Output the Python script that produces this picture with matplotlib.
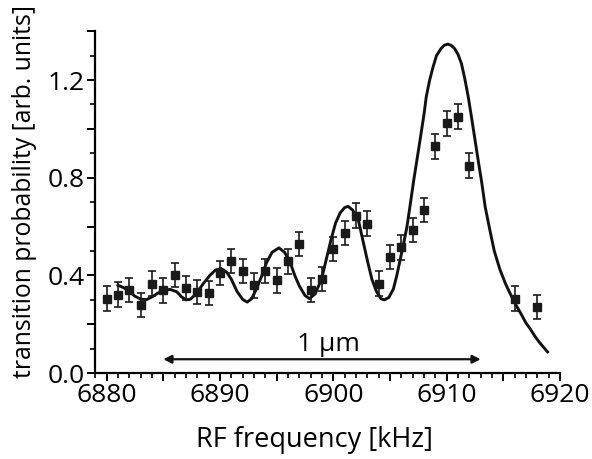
import numpy as np
import matplotlib
matplotlib.use("Agg")
import matplotlib.pyplot as plt
from matplotlib.ticker import MultipleLocator, FuncFormatter

plt.rcParams["font.family"] = ["Open Sans", "DejaVu Sans"]

# measured points (RF frequency in kHz, transition probability)
freq = [6880, 6881, 6882, 6883, 6884, 6885, 6886, 6887, 6888, 6889,
        6890, 6891, 6892, 6893, 6894, 6895, 6896, 6897, 6898, 6899,
        6900, 6901, 6902, 6903, 6904, 6905, 6906, 6907, 6908, 6909,
        6910, 6911, 6912, 6916, 6918]
prob = [0.305, 0.322, 0.340, 0.278, 0.367, 0.339, 0.401, 0.348, 0.332, 0.329,
        0.410, 0.459, 0.418, 0.359, 0.418, 0.380, 0.458, 0.529, 0.340, 0.386,
        0.509, 0.574, 0.645, 0.612, 0.367, 0.476, 0.515, 0.585, 0.669, 0.928,
        1.023, 1.050, 0.850, 0.305, 0.272]
err = [0.05] * len(freq)

# theory curve
fit_x = [6881.0, 6881.5, 6882.0, 6882.5, 6883.0, 6883.5, 6884.0, 6884.5, 6885.0, 6885.6,
         6886.2, 6886.6, 6887.0, 6887.4, 6887.9, 6888.5, 6889.1, 6889.6, 6890.1, 6890.6,
         6891.0, 6891.5, 6892.0, 6892.4, 6892.8, 6893.2, 6893.7, 6894.1, 6894.6, 6895.2,
         6895.7, 6896.2, 6896.6, 6897.0, 6897.5, 6897.9, 6898.4, 6898.95, 6899.4, 6899.8,
         6900.2, 6900.6, 6901.0, 6901.3, 6901.7, 6902.2, 6902.6, 6903.05, 6903.4, 6903.8,
         6904.2, 6904.5, 6904.9, 6905.3, 6905.6, 6905.9, 6906.2, 6906.5, 6906.8, 6907.1,
         6907.4, 6907.7, 6908.0, 6908.2, 6908.5, 6908.8, 6909.1, 6909.5, 6909.8, 6910.1,
         6910.4, 6910.7, 6911.0, 6911.3, 6911.6, 6911.9, 6912.2, 6912.5, 6912.8, 6913.1,
         6913.4, 6913.8, 6914.2, 6914.7, 6915.2, 6915.7, 6916.1, 6916.5, 6917.0, 6917.3,
         6917.8, 6918.2, 6918.9]
fit_y = [0.360, 0.350, 0.335, 0.315, 0.303, 0.301, 0.312, 0.327, 0.339, 0.343,
         0.333, 0.313, 0.300, 0.303, 0.325, 0.365, 0.400, 0.422, 0.428, 0.413,
         0.385, 0.335, 0.302, 0.291, 0.305, 0.343, 0.400, 0.452, 0.495, 0.513,
         0.495, 0.452, 0.400, 0.357, 0.318, 0.305, 0.325, 0.384, 0.470, 0.547,
         0.615, 0.656, 0.678, 0.683, 0.668, 0.629, 0.545, 0.452, 0.385, 0.335,
         0.305, 0.300, 0.310, 0.345, 0.400, 0.465, 0.530, 0.601, 0.695, 0.792,
         0.880, 0.969, 1.060, 1.132, 1.200, 1.254, 1.300, 1.329, 1.343, 1.347,
         1.342, 1.329, 1.305, 1.268, 1.205, 1.132, 1.045, 0.955, 0.865, 0.778,
         0.680, 0.588, 0.500, 0.424, 0.365, 0.316, 0.280, 0.248, 0.205, 0.186,
         0.150, 0.125, 0.087]

# scale bar
bar_start, bar_end, bar_y = 6885.0, 6913.0, 0.057

fig = plt.figure(figsize=(5.92, 4.59), dpi=100)
ax = fig.add_axes([0.160, 0.187, 0.786, 0.745])

ax.plot(fit_x, fit_y, color="#111111", lw=2.1, zorder=2)
ax.errorbar(freq, prob, yerr=err, fmt="s", color="#1a1a1a", ms=6,
            elinewidth=1.2, capsize=2.6, capthick=1.2, zorder=3)

ax.annotate("", xy=(bar_start, bar_y), xytext=(bar_end, bar_y),
            arrowprops=dict(arrowstyle="<|-|>", color="#111111", lw=1.6,
                            mutation_scale=12, shrinkA=0, shrinkB=0))
ax.text(6899.6, bar_y + 0.010, "1 µm", ha="center", va="bottom", fontsize=19)

ax.set_xlim(6878.95, 6920)
ax.set_ylim(0, 1.4)

ax.xaxis.set_major_locator(MultipleLocator(5))
ax.xaxis.set_minor_locator(MultipleLocator(1))
ax.xaxis.set_major_formatter(FuncFormatter(lambda v, p: f"{v:.0f}" if round(v) % 10 == 0 else ""))
ax.yaxis.set_major_locator(MultipleLocator(0.2))
ax.yaxis.set_minor_locator(MultipleLocator(0.1))
ax.yaxis.set_major_formatter(FuncFormatter(lambda v, p: f"{v:.1f}" if round(v * 10) % 4 == 0 else ""))

for s in ["top", "right"]:
    ax.spines[s].set_visible(False)
for s in ["left", "bottom"]:
    ax.spines[s].set_linewidth(1.6)
ax.tick_params(which="major", direction="out", length=6, width=1.4, labelsize=19, pad=1)
ax.tick_params(which="minor", direction="out", length=3.5, width=1.2)

ax.set_xlabel("RF frequency [kHz]", fontsize=19.5, va="center")
ax.xaxis.set_label_coords(0.473, -0.196)
ax.set_ylabel("transition probability [arb. units]", fontsize=17.8, va="center")
ax.yaxis.set_label_coords(-0.15, 0.532)

fig.savefig("out.png", dpi=100)
